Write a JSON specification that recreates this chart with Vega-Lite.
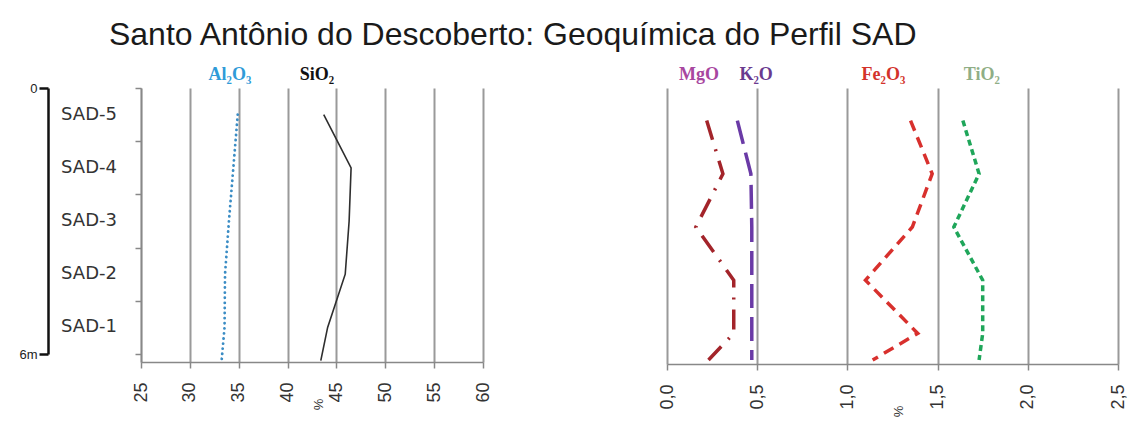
{
  "$schema": "https://vega.github.io/schema/vega-lite/v6.json",
  "background": "white",
  "padding": {"left": 18, "top": 19, "right": 5, "bottom": 5},
  "title": {"text": "Santo Antônio do Descoberto: Geoquímica do Perfil SAD", "fontSize": 32, "font": "Liberation Sans", "fontWeight": "normal", "color": "#1a1a1a", "anchor": "start", "dx": 90, "offset": 14},
  "datasets": {
    "samples": [
      {"sample": "SAD-5", "depth": 0.6},
      {"sample": "SAD-4", "depth": 1.8},
      {"sample": "SAD-3", "depth": 3.0},
      {"sample": "SAD-2", "depth": 4.2},
      {"sample": "SAD-1", "depth": 5.4}
    ],
    "left": [
      {"series": "Al2O3", "depth": 0.6, "value": 34.9},
      {"series": "Al2O3", "depth": 1.8, "value": 34.45},
      {"series": "Al2O3", "depth": 3.0, "value": 34.0},
      {"series": "Al2O3", "depth": 4.2, "value": 33.6},
      {"series": "Al2O3", "depth": 5.4, "value": 33.55},
      {"series": "Al2O3", "depth": 6.15, "value": 33.25},
      {"series": "SiO2", "depth": 0.6, "value": 43.7},
      {"series": "SiO2", "depth": 1.8, "value": 46.5},
      {"series": "SiO2", "depth": 3.0, "value": 46.3},
      {"series": "SiO2", "depth": 4.2, "value": 45.9},
      {"series": "SiO2", "depth": 5.4, "value": 44.1},
      {"series": "SiO2", "depth": 6.15, "value": 43.4}
    ],
    "right": [
      {"series": "MgO", "depth": 0.6, "value": 0.22},
      {"series": "MgO", "depth": 1.8, "value": 0.31},
      {"series": "MgO", "depth": 3.0, "value": 0.16},
      {"series": "MgO", "depth": 4.2, "value": 0.37},
      {"series": "MgO", "depth": 5.4, "value": 0.37},
      {"series": "MgO", "depth": 6.0, "value": 0.23},
      {"series": "K2O", "depth": 0.6, "value": 0.39},
      {"series": "K2O", "depth": 1.8, "value": 0.465},
      {"series": "K2O", "depth": 3.0, "value": 0.47},
      {"series": "K2O", "depth": 4.2, "value": 0.47},
      {"series": "K2O", "depth": 5.4, "value": 0.47},
      {"series": "K2O", "depth": 6.0, "value": 0.47},
      {"series": "Fe2O3", "depth": 0.6, "value": 1.35},
      {"series": "Fe2O3", "depth": 1.8, "value": 1.47},
      {"series": "Fe2O3", "depth": 3.0, "value": 1.36},
      {"series": "Fe2O3", "depth": 4.2, "value": 1.1},
      {"series": "Fe2O3", "depth": 5.4, "value": 1.39},
      {"series": "Fe2O3", "depth": 6.0, "value": 1.14},
      {"series": "TiO2", "depth": 0.6, "value": 1.64},
      {"series": "TiO2", "depth": 1.8, "value": 1.73},
      {"series": "TiO2", "depth": 3.0, "value": 1.59},
      {"series": "TiO2", "depth": 4.2, "value": 1.75},
      {"series": "TiO2", "depth": 5.4, "value": 1.75},
      {"series": "TiO2", "depth": 6.0, "value": 1.73}
    ],
    "labels": [
      {"label": "Al₂O₃", "panel": "L", "pos": 34.1},
      {"label": "SiO₂", "panel": "L", "pos": 43.0},
      {"label": "MgO", "panel": "R", "pos": 0.178},
      {"label": "K₂O", "panel": "R", "pos": 0.494},
      {"label": "Fe₂O₃", "panel": "R", "pos": 1.2},
      {"label": "TiO₂", "panel": "R", "pos": 1.745}
    ]
  },
  "spacing": 184,
  "bounds": "flush",
  "hconcat": [
    {
      "width": 342,
      "height": 274,
      "resolve": {"scale": {"y": "independent"}, "axis": {"y": "independent"}},
      "layer": [
        {
          "data": {"name": "left"},
          "transform": [{"filter": "datum.series == 'SiO2'"}],
          "mark": {"type": "line", "strokeCap": "butt", "strokeWidth": 1.6, "color": "#2e2e2e"},
          "encoding": {
            "x": {
              "field": "value", "type": "quantitative",
              "scale": {"domain": [25, 60], "nice": false, "zero": false},
              "axis": {"values": [25, 30, 35, 40, 45, 50, 55, 60], "title": "%", "grid": true}
            },
            "y": {
              "field": "depth", "type": "quantitative",
              "scale": {"domain": [0, 6.18], "nice": false, "zero": false, "reverse": true},
              "axis": {"orient": "left", "values": [0, 1.2, 2.4, 3.6, 4.8, 6], "labels": false, "title": null, "grid": false, "tickSize": 6, "tickColor": "#888888", "domainColor": "#888888", "domainWidth": 1.5, "tickWidth": 1.5}
            },
            "order": {"field": "depth", "type": "quantitative"}
          }
        },
        {
          "data": {"name": "left"},
          "transform": [{"filter": "datum.series == 'Al2O3'"}],
          "mark": {"type": "line", "strokeCap": "round", "strokeWidth": 2.8, "strokeDash": [0.1, 5], "color": "#3a8cc4"},
          "encoding": {
            "x": {"field": "value", "type": "quantitative"},
            "y": {"field": "depth", "type": "quantitative", "scale": {"domain": [0, 6.18], "nice": false, "zero": false, "reverse": true}, "axis": null},
            "order": {"field": "depth", "type": "quantitative"}
          }
        },
        {
          "data": {"name": "labels"},
          "transform": [{"filter": "datum.panel == 'L'"}],
          "mark": {"type": "text", "font": "Liberation Serif", "fontWeight": "bold", "fontSize": 18, "dy": -8, "baseline": "alphabetic"},
          "encoding": {
            "x": {"field": "pos", "type": "quantitative"},
            "y": {"datum": 0, "scale": {"domain": [0, 6.18], "nice": false, "zero": false, "reverse": true}, "axis": null},
            "text": {"field": "label"},
            "fill": {"field": "label", "type": "nominal", "legend": null, "scale": {"domain": ["Al₂O₃", "SiO₂", "MgO", "K₂O", "Fe₂O₃", "TiO₂"], "range": ["#2f9bd8", "#111111", "#a8479f", "#6a3a8f", "#d3332b", "#8fae86"]}}
          }
        },
        {
          "data": {"name": "samples"},
          "mark": {"type": "text", "font": "DejaVu Sans", "fontSize": 18, "color": "#333333", "align": "right", "baseline": "middle", "dx": -24},
          "encoding": {
            "x": {"datum": 25},
            "y": {
              "field": "depth", "type": "quantitative",
              "scale": {"domain": [0, 6], "nice": false, "zero": false, "range": [0, 266]},
              "axis": {"orient": "left", "offset": 93, "values": [0, 6], "labelExpr": "datum.value == 6 ? '6m' : '0'", "domainColor": "#111111", "domainWidth": 2.5, "tickColor": "#111111", "tickWidth": 2.5, "tickSize": 9, "labelFontSize": 13, "labelColor": "#222222", "labelPadding": 2, "grid": false, "title": null, "labelFont": "Liberation Sans"}
            },
            "text": {"field": "sample"}
          }
        }
      ]
    },
    {
      "width": 451,
      "height": 276,
      "layer": [
        {
          "data": {"name": "right"},
          "mark": {"type": "line", "strokeCap": "butt", "strokeWidth": 3.5},
          "encoding": {
            "x": {
              "field": "value", "type": "quantitative",
              "scale": {"domain": [0, 2.5], "nice": false, "zero": false},
              "axis": {"values": [0, 0.5, 1, 1.5, 2, 2.5], "labelExpr": "replace(format(datum.value, '.1f'), '.', ',')", "title": "%", "grid": true}
            },
            "y": {
              "field": "depth", "type": "quantitative",
              "scale": {"domain": [-0.135, 6.09], "nice": false, "zero": false, "reverse": true},
              "axis": null
            },
            "order": {"field": "depth", "type": "quantitative"},
            "stroke": {"field": "series", "type": "nominal", "legend": null, "scale": {"domain": ["MgO", "K2O", "Fe2O3", "TiO2"], "range": ["#a3242a", "#6a3aa6", "#d8302d", "#1fa65a"]}},
            "strokeDash": {"field": "series", "type": "nominal", "legend": null, "scale": {"domain": ["MgO", "K2O", "Fe2O3", "TiO2"], "range": [[20, 10, 2, 10], [24, 9], [11, 7], [6, 4]]}}
          }
        },
        {
          "data": {"name": "labels"},
          "transform": [{"filter": "datum.panel == 'R'"}],
          "mark": {"type": "text", "font": "Liberation Serif", "fontWeight": "bold", "fontSize": 18, "dy": -8, "baseline": "alphabetic"},
          "encoding": {
            "x": {"field": "pos", "type": "quantitative"},
            "y": {"datum": -0.135},
            "text": {"field": "label"},
            "fill": {"field": "label", "type": "nominal", "legend": null, "scale": {"domain": ["Al₂O₃", "SiO₂", "MgO", "K₂O", "Fe₂O₃", "TiO₂"], "range": ["#2f9bd8", "#111111", "#a8479f", "#6a3a8f", "#d3332b", "#8fae86"]}}
          }
        }
      ]
    }
  ],
  "config": {
    "view": {"stroke": null},
    "font": "Liberation Sans",
    "axisX": {"domainColor": "#888888", "domainWidth": 1.5, "tickColor": "#888888", "tickWidth": 1.5, "tickSize": 6, "gridColor": "#9a9a9a", "gridWidth": 2, "labelAngle": -90, "labelFontSize": 18, "labelColor": "#333333", "labelPadding": 14, "titleFontSize": 13, "titleFontWeight": "normal", "titleColor": "#333333", "titlePadding": 2, "titleAngle": -90}
  }
}
